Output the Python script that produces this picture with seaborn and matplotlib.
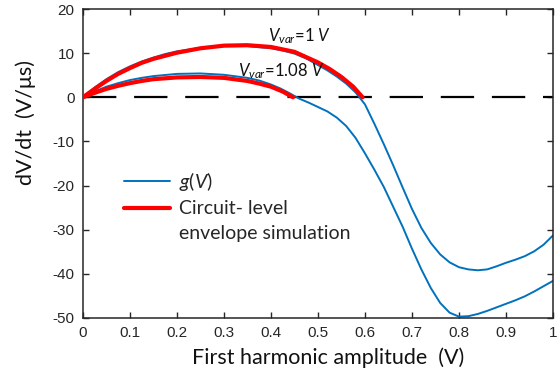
import matplotlib
matplotlib.use("Agg")
import matplotlib.pyplot as plt
from matplotlib.lines import Line2D
import seaborn as sns
import pandas as pd

# ---- data ----
x_g1 = [0, 0.025, 0.05, 0.075, 0.1, 0.125, 0.15, 0.175, 0.2, 0.25, 0.3, 0.35, 0.4, 0.425, 0.45,
        0.475, 0.5, 0.52, 0.54, 0.56, 0.58, 0.6, 0.62, 0.64, 0.66, 0.68, 0.7, 0.72, 0.74, 0.76,
        0.78, 0.8, 0.82, 0.84, 0.86, 0.88, 0.9, 0.92, 0.94, 0.96, 0.98, 1.0]
y_g1 = [0, 2.2, 4.1, 5.7, 7.0, 8.1, 9.0, 9.8, 10.4, 11.2, 11.6, 11.6, 11.1, 10.6, 9.9,
        8.8, 7.3, 6.1, 4.7, 3.1, 1.1, -1.6, -6.0, -10.6, -15.4, -20.4, -25.3, -29.6, -33.0, -35.6,
        -37.4, -38.5, -39.0, -39.2, -39.0, -38.3, -37.5, -36.8, -36.0, -34.9, -33.4, -31.3]

x_g2 = [0, 0.025, 0.05, 0.075, 0.1, 0.125, 0.15, 0.2, 0.25, 0.3, 0.35, 0.375, 0.4, 0.42, 0.44,
        0.46, 0.48, 0.5, 0.52, 0.54, 0.56, 0.58, 0.6, 0.62, 0.64, 0.66, 0.68, 0.7, 0.72, 0.74,
        0.76, 0.78, 0.8, 0.82, 0.84, 0.86, 0.88, 0.9, 0.92, 0.94, 0.96, 0.98, 1.0]
y_g2 = [0, 1.3, 2.4, 3.2, 3.9, 4.4, 4.8, 5.3, 5.4, 5.1, 4.4, 3.8, 2.9, 2.0, 0.9,
        -0.3, -1.2, -2.2, -3.2, -4.6, -6.5, -9.2, -12.7, -16.4, -20.3, -24.8, -29.3, -34.3, -39.0, -43.2,
        -46.6, -48.8, -49.7, -49.6, -49.1, -48.4, -47.6, -46.8, -46.0, -45.1, -44.0, -42.8, -41.6]

x_c1 = [0, 0.025, 0.05, 0.075, 0.1, 0.125, 0.15, 0.2, 0.25, 0.3, 0.35, 0.4, 0.45, 0.5, 0.525,
        0.55, 0.575, 0.595]
y_c1 = [0, 1.9, 3.7, 5.3, 6.6, 7.8, 8.7, 10.1, 11.1, 11.7, 11.8, 11.4, 10.3, 7.9, 6.4,
        4.6, 2.4, 0]

x_c2 = [0, 0.025, 0.05, 0.075, 0.1, 0.125, 0.15, 0.2, 0.25, 0.3, 0.35, 0.375, 0.4, 0.425, 0.447]
y_c2 = [0, 1.0, 1.9, 2.6, 3.2, 3.7, 4.1, 4.5, 4.6, 4.4, 3.7, 3.1, 2.4, 1.3, 0]

x_ticks = [0, 0.1, 0.2, 0.3, 0.4, 0.5, 0.6, 0.7, 0.8, 0.9, 1]
x_tick_labels = ["0", "0.1", "0.2", "0.3", "0.4", "0.5", "0.6", "0.7", "0.8", "0.9", "1"]
y_ticks = [-50, -40, -30, -20, -10, 0, 10, 20]
y_tick_labels = ["-50", "-40", "-30", "-20", "-10", "0", "10", "20"]

annot_labels = [r"$V_{var}$=1 $V$", r"$V_{var}$=1.08 $V$"]
annot_pos = [(0.393, 13.9), (0.33, 5.9)]
legend_labels = [r"$g(V)$", "Circuit- level", "envelope simulation"]

BLUE = "#0072BD"
RED = "#FF0000"

sns.set_style("ticks")
plt.rcParams["font.family"] = ["Liberation Sans", "DejaVu Sans"]
plt.rcParams["mathtext.fontset"] = "custom"
plt.rcParams["mathtext.it"] = "Lato:italic"
plt.rcParams["mathtext.rm"] = "Lato"

fig = plt.figure(figsize=(5.6, 3.71), dpi=100)
ax = fig.add_axes([0.148, 0.143, 0.8395, 0.8327])

df_g1 = pd.DataFrame({"x": x_g1, "y": y_g1})
df_g2 = pd.DataFrame({"x": x_g2, "y": y_g2})
df_c1 = pd.DataFrame({"x": x_c1, "y": y_c1})
df_c2 = pd.DataFrame({"x": x_c2, "y": y_c2})

ax.axhline(0, color="black", lw=1.6, dashes=(15, 8), zorder=1)
sns.lineplot(data=df_g1, x="x", y="y", ax=ax, color=BLUE, lw=1.4, sort=False, zorder=2)
sns.lineplot(data=df_g2, x="x", y="y", ax=ax, color=BLUE, lw=1.4, sort=False, zorder=2)
sns.lineplot(data=df_c1, x="x", y="y", ax=ax, color=RED, lw=3.0, sort=False, zorder=3)
sns.lineplot(data=df_c2, x="x", y="y", ax=ax, color=RED, lw=3.0, sort=False, zorder=3)

for lab, (px, py) in zip(annot_labels, annot_pos):
    ax.text(px, py, lab, fontsize=12, family="Lato", va="center", ha="left", color="#111111")

ax.set_xlim(0, 1)
ax.set_ylim(-50, 20)
ax.set_xticks(x_ticks)
ax.set_xticklabels(x_tick_labels)
ax.set_yticks(y_ticks)
ax.set_yticklabels(y_tick_labels)
ax.tick_params(direction="in", length=4, width=1, top=True, right=True,
               labelsize=11, colors="#262626", labelcolor="#262626", pad=6)
for s in ax.spines.values():
    s.set_color("#262626")
    s.set_linewidth(1.1)

ax.set_xlabel("First harmonic amplitude  (V)", family="Lato", fontsize=15.5, color="#111111",
              va="baseline")
ax.set_ylabel("dV/dt  (V/\u03bcs)", family="Lato", fontsize=15.5, color="#111111")
ax.xaxis.set_label_coords(0.521, -0.148)
ax.yaxis.set_label_coords(-0.10, 0.632)

handles = [Line2D([], [], color=BLUE, lw=1.4), Line2D([], [], color=RED, lw=3.0),
           Line2D([], [], color="none", lw=0)]
leg = ax.legend(handles, legend_labels, frameon=False, loc="upper left",
                bbox_to_anchor=(0.087, 0.48), prop={"family": "Lato", "size": 14},
                handlelength=2.4, handletextpad=0.42, labelspacing=0.4,
                borderaxespad=0, borderpad=0)

fig.savefig("out.png", dpi=100)
